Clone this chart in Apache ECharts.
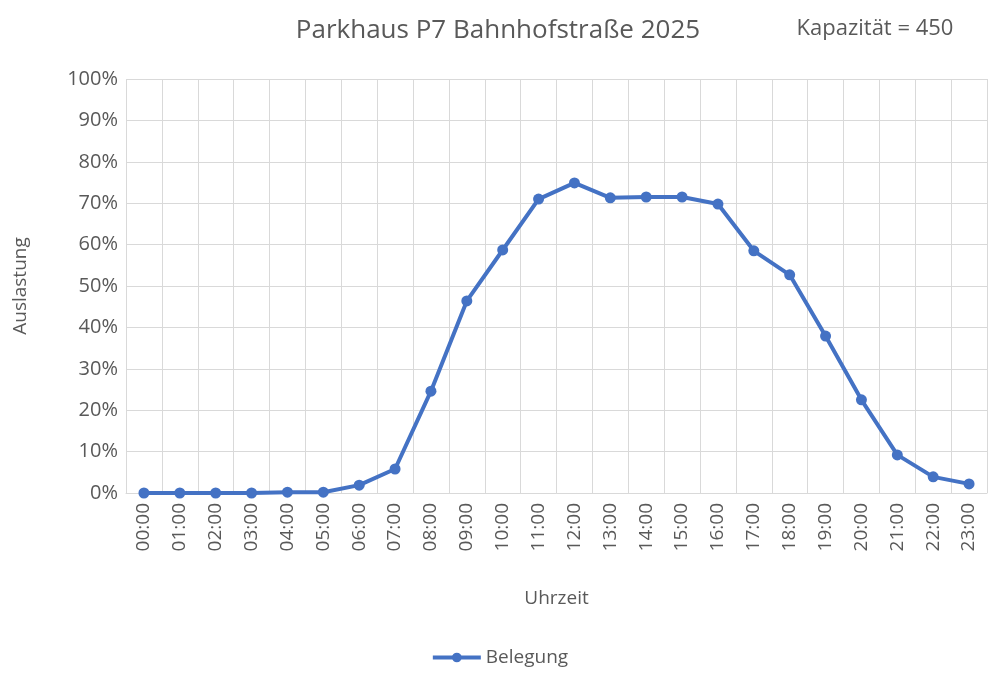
<!DOCTYPE html>
<html><head><meta charset="utf-8">
<script src="https://cdn.jsdelivr.net/npm/echarts@6/dist/echarts.min.js"></script>
<style>html,body{margin:0;padding:0;background:#fff}#c{width:999px;height:684px}</style>
</head><body><div id="c"></div>
<script>
const categories = ["00:00","01:00","02:00","03:00","04:00","05:00","06:00","07:00","08:00","09:00","10:00","11:00","12:00","13:00","14:00","15:00","16:00","17:00","18:00","19:00","20:00","21:00","22:00","23:00"];
const belegung = [0,0,0,0,0.2,0.2,1.9,5.8,24.6,46.4,58.7,71.0,74.9,71.3,71.5,71.5,69.8,58.5,52.7,37.9,22.5,9.2,3.9,2.2];
const txt = '#595959', F = 'Open Sans';
const chart = echarts.init(document.getElementById('c'));
chart.setOption({
  animation:false,
  textStyle:{fontFamily:F},
  title:[{text:'Parkhaus P7 Bahnhofstraße 2025',left:493,top:13,textAlign:'center',textStyle:{fontSize:26,fontWeight:'normal',color:txt,fontFamily:F}},
         {text:'Kapazität = 450',left:870,top:13,textAlign:'center',textStyle:{fontSize:22,fontWeight:'normal',color:txt,fontFamily:F}}],
  legend:{bottom:12,left:'center',itemWidth:48,itemHeight:12,textStyle:{fontSize:19,color:txt},data:['Belegung'],
    lineStyle:{width:4}},
  grid:{left:126,right:12,top:79,bottom:191},
  xAxis:{type:'category',data:categories,boundaryGap:true,name:'Uhrzeit',nameLocation:'middle',nameGap:96,
    nameTextStyle:{fontSize:19,color:txt},
    axisLabel:{rotate:90,fontSize:19,color:txt,margin:10},axisTick:{show:false},
    axisLine:{lineStyle:{color:'#d9d9d9'}},splitLine:{show:true,interval:0,lineStyle:{color:'#d9d9d9'}}},
  yAxis:{type:'value',min:0,max:100,interval:10,name:'Auslastung',nameLocation:'middle',nameGap:96,
    nameTextStyle:{fontSize:19,color:txt},
    axisLabel:{formatter:'{value}%',fontSize:20,color:txt},
    splitLine:{lineStyle:{color:'#d9d9d9'}}},
  series:[{name:'Belegung',type:'line',data:belegung,symbol:'circle',symbolSize:11,
    lineStyle:{color:'#4472c4',width:4},itemStyle:{color:'#4472c4'}}]
});
</script></body></html>
